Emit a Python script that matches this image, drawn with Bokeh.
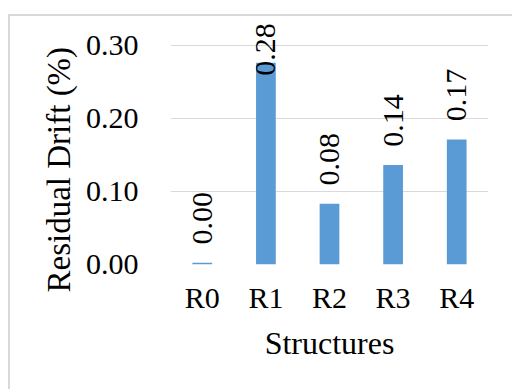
from bokeh.plotting import figure
from bokeh.models import (ColumnDataSource, FixedTicker, NumeralTickFormatter,
                          Range1d, FactorRange, Title)
from bokeh.core.properties import value
from bokeh.embed import file_html
from bokeh.resources import INLINE
import math

# Residual drift per structure (%)
structures = ["R0", "R1", "R2", "R3", "R4"]
residual_drift = [0.0025, 0.276, 0.083, 0.136, 0.171]
y_ticks = [0.0, 0.10, 0.20, 0.30]

FONT = "Liberation Serif"
BAR_COLOR = "#5B9BD5"
GRID_COLOR = "#D9D9D9"

# data labels sit just above each bar, capped so they stay inside the chart
label_gap = 0.025
label_cap = 0.258
labels = [f"{v:.2f}" for v in residual_drift]
label_y = [min(v + label_gap, label_cap) for v in residual_drift]

source = ColumnDataSource(dict(x=structures, top=residual_drift,
                               label=labels, label_y=label_y))

p = figure(width=504, height=375, output_backend="svg", toolbar_location=None,
           x_range=FactorRange(*structures, range_padding=0),
           y_range=Range1d(0, 0.335),
           min_border_left=160, min_border_right=26,
           min_border_top=3, min_border_bottom=127)

# chart area: light grey border on the visible top and left edges
p.margin = (14, 0, 0, 8)
p.styles = {"border-left": f"2px solid {GRID_COLOR}",
            "border-top": f"2px solid {GRID_COLOR}"}

p.vbar(x="x", top="top", width=0.31, source=source,
       fill_color=BAR_COLOR, line_color=None)

p.text(x="x", y="label_y", text="label", source=source,
       angle=math.pi / 2, text_align="left", text_baseline="middle",
       text_font=value(FONT), text_font_size="30px", text_color="black")

p.outline_line_color = None
p.background_fill_color = "white"
p.border_fill_color = "white"

p.xgrid.grid_line_color = None
p.ygrid.grid_line_color = GRID_COLOR
p.ygrid.grid_line_width = 1
p.ygrid.ticker = FixedTicker(ticks=y_ticks)

p.yaxis.ticker = FixedTicker(ticks=y_ticks)
p.yaxis.formatter = NumeralTickFormatter(format="0.00")
p.xaxis.axis_label = "Structures"

for ax in (p.xaxis, p.yaxis):
    ax.axis_line_color = None
    ax.major_tick_line_color = None
    ax.minor_tick_line_color = None
    ax.major_tick_out = 0
    ax.major_tick_in = 0
    ax.major_label_text_font = FONT
    ax.major_label_text_font_size = "30px"
    ax.major_label_text_color = "black"
    ax.axis_label_text_font = FONT
    ax.axis_label_text_font_size = "32px"
    ax.axis_label_text_font_style = "normal"
    ax.axis_label_text_color = "black"

p.yaxis.major_label_standoff = 32
p.xaxis.major_label_standoff = 16
p.xaxis.axis_label_standoff = 8

# vertical axis title, placed a little below the plot-area centre
p.add_layout(Title(text="Residual Drift (%)", align="left", offset=-28,
                   standoff=12, text_font=FONT, text_font_size="33px",
                   text_font_style="normal", text_color="black"), "left")

open("out.html", "w").write(file_html(p, INLINE))
